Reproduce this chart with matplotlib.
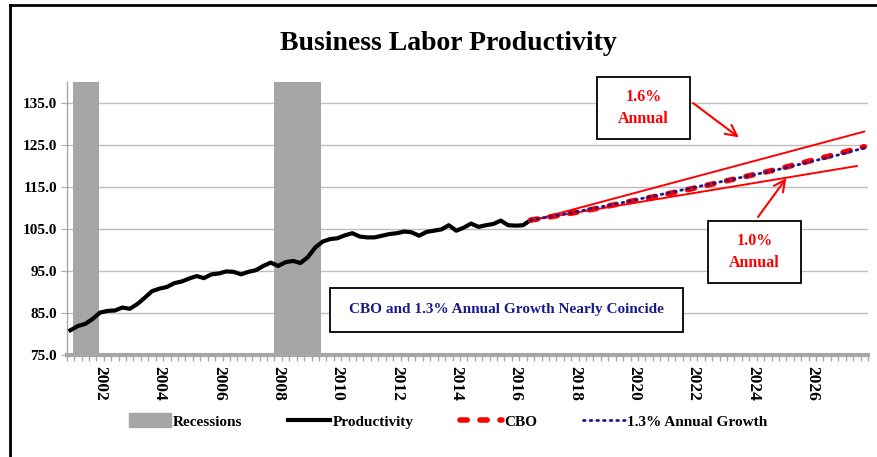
import matplotlib
matplotlib.use("Agg")
import matplotlib.pyplot as plt
from matplotlib.lines import Line2D
from matplotlib.patches import Patch, Rectangle
import pandas as pd

# ---- data -------------------------------------------------------------
first_quarter = "2001Q1"
last_quarter = "2027Q4"

# Nonfarm business output per hour (index), quarterly 2001Q1 - 2016Q3
productivity = [
    80.9, 81.9, 82.4, 83.6, 85.1, 85.5, 85.6, 86.3,
    86.0, 87.1, 88.6, 90.2, 90.8, 91.2, 92.1, 92.5,
    93.2, 93.8, 93.3, 94.2, 94.4, 94.9, 94.8, 94.2,
    94.8, 95.2, 96.2, 97.0, 96.2, 97.1, 97.4, 96.9,
    98.3, 100.6, 102.0, 102.6, 102.8, 103.5, 104.0, 103.2,
    103.0, 103.0, 103.4, 103.8, 104.0, 104.4, 104.2, 103.4,
    104.3, 104.6, 104.9, 105.9, 104.6, 105.3, 106.3, 105.5,
    105.9, 106.2, 107.0, 105.9, 105.8, 105.9, 107.1,
]

# Projections
proj_periods = ["2016Q3", "2017Q4", "2018Q4", "2019Q4", "2020Q4", "2021Q4",
                "2022Q4", "2023Q4", "2024Q4", "2025Q4", "2026Q4", "2027Q4"]
cbo = [107.1, 108.6, 109.9, 111.4, 112.8, 114.3,
       115.9, 117.5, 119.1, 120.9, 122.7, 124.6]
growth_13 = [107.1, 108.7, 110.1, 111.5, 113.0, 114.5,
             116.0, 117.5, 119.0, 120.7, 122.4, 124.3]

# Range of alternative growth paths (start, end)
band_periods = {"1.6%": ("2016Q4", "2027Q4"), "1.0%": ("2016Q4", "2027Q3")}
band_values = {"1.6%": (107.4, 128.2), "1.0%": (107.4, 120.0)}

recessions = [("2001Q2", "2001Q4"), ("2008Q1", "2009Q2")]

y_ticks = [75, 85, 95, 105, 115, 125, 135]
label_years = list(range(2002, 2027, 2))

# ---- helpers ----------------------------------------------------------
quarters = pd.period_range(first_quarter, last_quarter, freq="Q")
qpos = {str(p): i for i, p in enumerate(quarters)}
W, H = 878, 457


def fpx(x, y):
    """pixel position -> figure fraction"""
    return x / W, 1 - y / H


serif = "Liberation Serif"
grey = "#A6A6A6"
red = "#FF0000"
navy = "#1A1A8C"
cbo_style = dict(color=red, lw=4.0, dashes=(1.3, 2.3), dash_capstyle="round")
growth_style = dict(color=navy, lw=2.0, dashes=(0.6, 1.8),
                    dash_capstyle="round")

fig = plt.figure(figsize=(W / 100, H / 100), dpi=100)
fig.patch.set_facecolor("white")
ax = fig.add_axes([66.7 / W, (H - 355) / H, 801.3 / W, 273 / H])

# recession shading
for start, end in recessions:
    ax.axvspan(qpos[start] - 0.6, qpos[end] + 0.8, color=grey, lw=0, zorder=1)

# actual productivity
ax.plot(range(len(productivity)), productivity, color="black", lw=3.0,
        solid_joinstyle="round", zorder=4)

# alternative growth paths
for key in band_periods:
    p0, p1 = band_periods[key]
    v0, v1 = band_values[key]
    ax.plot([qpos[p0], qpos[p1]], [v0, v1], color=red, lw=1.4, zorder=3)

proj_x = [qpos[p] for p in proj_periods]
ax.plot(proj_x, cbo, zorder=5, **cbo_style)
ax.plot(proj_x, growth_13, zorder=6, **growth_style)

# axes styling
ax.set_xlim(-0.5, len(quarters) - 0.5)
ax.set_ylim(75, 140)
ax.set_yticks(y_ticks)
ax.set_yticklabels([f"{v:.1f}" for v in y_ticks], fontfamily=serif,
                   fontweight="bold", fontsize=11)
ax.yaxis.grid(True, color="#BEBEBE", lw=1.0, zorder=0.5)
ax.set_axisbelow(True)
ax.tick_params(axis="y", direction="out", length=4, color=grey, pad=3)

ax.set_xticks([qpos[f"{y}Q1"] for y in label_years])
ax.set_xticklabels([str(y) for y in label_years], rotation=270,
                   fontfamily=serif, fontweight="bold", fontsize=12.5)
ax.set_xticks([i - 0.5 for i in range(len(quarters) + 1)], minor=True)
ax.tick_params(axis="x", which="major", length=0, pad=8)
ax.tick_params(axis="x", which="minor", direction="out", length=4,
               color=grey, width=1)
for lab in ax.get_xticklabels():
    lab.set_verticalalignment("top")

for side in ("top", "right"):
    ax.spines[side].set_visible(False)
ax.spines["left"].set_color(grey)
ax.spines["left"].set_linewidth(1.0)
ax.spines["bottom"].set_color(grey)
ax.spines["bottom"].set_linewidth(3.0)
ax.spines["bottom"].set_zorder(2)

# title
fig.text(*fpx(448, 43), "Business Labor Productivity", ha="center",
         va="center", fontfamily=serif, fontweight="bold", fontsize=20)

# annotation boxes
def box(x0, y0, x1, y1, lines, color, size):
    (fx0, fy1), (fx1, fy0) = fpx(x0, y0), fpx(x1, y1)
    fig.add_artist(Rectangle((fx0, fy0), fx1 - fx0, fy1 - fy0,
                             transform=fig.transFigure, facecolor="white",
                             edgecolor="black", lw=1.3, zorder=8))
    fig.text((fx0 + fx1) / 2, (fy0 + fy1) / 2, lines, ha="center",
             va="center", color=color, fontfamily=serif, fontweight="bold",
             fontsize=size, linespacing=1.45, zorder=9)


box(597, 77, 690, 139, "1.6%\nAnnual", red, 11.5)
box(708, 221, 801, 283, "1.0%\nAnnual", red, 11.5)
box(330, 288, 683, 332, "CBO and 1.3% Annual Growth Nearly Coincide", navy, 11)

arrow_style = dict(arrowstyle="->,head_length=0.8,head_width=0.4",
                   color=red, lw=1.5, shrinkA=0, shrinkB=0)
ax.annotate("", xy=(90.1, 126.8), xycoords="data",
            xytext=fpx(693, 103), textcoords="figure fraction",
            arrowprops=arrow_style, zorder=9)
ax.annotate("", xy=(96.5, 117.1), xycoords="data",
            xytext=fpx(758, 217), textcoords="figure fraction",
            arrowprops=arrow_style, zorder=9)

# legend
handles = [
    Patch(facecolor=grey, edgecolor=grey, label="Recessions"),
    Line2D([], [], color="black", lw=3.0, label="Productivity"),
    Line2D([], [], label="CBO", **cbo_style),
    Line2D([], [], label="1.3% Annual Growth", **growth_style),
]
fig.legend(handles=handles, loc="center", bbox_to_anchor=fpx(448, 421),
           ncol=4, frameon=False, handlelength=2.75, handleheight=1.0,
           handletextpad=0.15, columnspacing=3.0,
           prop=dict(family=serif, weight="bold", size=11))

# outer frame
fig.add_artist(Line2D([10 / W, 1], [1 - 5 / H, 1 - 5 / H],
                      transform=fig.transFigure, color="black", lw=2))
fig.add_artist(Line2D([10 / W, 10 / W], [0, 1 - 5 / H],
                      transform=fig.transFigure, color="black", lw=2))

fig.savefig("out.png", dpi=100)
